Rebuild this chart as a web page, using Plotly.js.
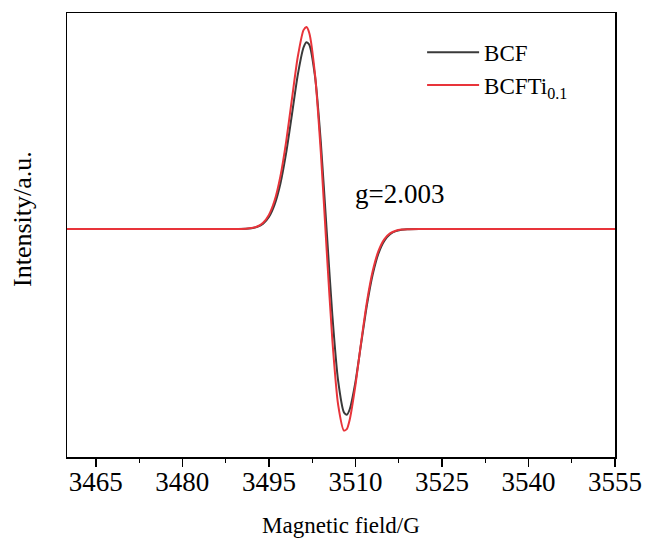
<!DOCTYPE html>
<html>
<head>
<meta charset="utf-8">
<script src="https://cdn.plot.ly/plotly-3.0.1.min.js"></script>
<style>html,body{margin:0;padding:0;background:#fff;}</style>
</head>
<body>
<div id="chart" style="width:646px;height:538px;"></div>
<script>
// Magnetic field (G) and intensity (a.u.)
const fieldBCF = [3460, 3470, 3480, 3486, 3489, 3491, 3492, 3493, 3494, 3495, 3496, 3497, 3498, 3499, 3500, 3501, 3501.5, 3502, 3503, 3504, 3505, 3506, 3507, 3508, 3508.5, 3509, 3510, 3511, 3512, 3513, 3514, 3515, 3516, 3517, 3518, 3519, 3521, 3524, 3530, 3540, 3555];
const intensityBCF = [0, 0, 0, 0, 0, 0.2, 0.8, 2.2, 5.3, 12.0, 24.6, 45.5, 76.3, 114.7, 153.9, 181.5, 186.8, 184.3, 152.5, 86.8, 0, -86.3, -151.7, -183.3, -185.8, -180.5, -153.1, -114.1, -75.9, -45.3, -24.4, -11.9, -5.3, -2.1, -0.8, -0.2, 0, 0, 0, 0, 0];

const fieldBCFTi = [3460, 3470, 3480, 3486, 3489, 3491, 3492, 3493, 3494, 3495, 3496, 3497, 3498, 3499, 3500, 3501, 3501.5, 3502, 3503, 3504, 3505, 3506, 3507, 3508, 3508.5, 3509, 3510, 3511, 3512, 3513, 3514, 3515, 3516, 3517, 3518, 3519, 3521, 3524, 3530, 3540, 3555];
const intensityBCFTi = [0, 0, 0, 0, 0, 0.3, 0.9, 2.5, 6.3, 14.1, 28.7, 52.9, 87.7, 130.3, 172.0, 198.9, 201.9, 196.0, 154.2, 76.9, -19.7, -111.3, -175.7, -201.5, -200.1, -190.9, -156.3, -112.8, -72.6, -42.0, -21.9, -10.3, -4.4, -1.7, -0.6, -0.2, 0, 0, 0, 0, 0];

const seriesNames = ["BCF", "BCFTi<sub>0.1</sub>"];
const xTicks = [3465, 3480, 3495, 3510, 3525, 3540, 3555];
const xTitle = "Magnetic field/G";
const yTitle = "Intensity/a.u.";
const gLabel = "g=2.003";

const serif = "Liberation Serif, Times New Roman, serif";

const traces = [
  {x: fieldBCF, y: intensityBCF, name: seriesNames[0], type: "scatter", mode: "lines",
   line: {color: "#3a3a3a", width: 2, shape: "spline", smoothing: 0.6}},
  {x: fieldBCFTi, y: intensityBCFTi, name: seriesNames[1], type: "scatter", mode: "lines",
   line: {color: "#e8343a", width: 2, shape: "spline", smoothing: 0.6}}
];

const layout = {
  width: 646, height: 538,
  margin: {l: 67, r: 31, t: 13, b: 81},
  paper_bgcolor: "#ffffff", plot_bgcolor: "#ffffff",
  showlegend: true,
  legend: {x: 0.648, y: 0.96, xanchor: "left", yanchor: "top",
           itemwidth: 52,
           font: {family: serif, size: 23, color: "#000"}, bgcolor: "rgba(0,0,0,0)",
           borderwidth: 0},
  xaxis: {
    range: [3460, 3555], tickvals: xTicks, ticktext: xTicks.map(String),
    ticks: "outside", ticklen: 8, tickwidth: 1.5, tickcolor: "#000",
    ticklabelstandoff: -8,
    minor: {dtick: 7.5, tick0: 3465, ticks: "outside", ticklen: 4, tickwidth: 1.2, tickcolor: "#000", showgrid: false},
    showline: true, linecolor: "#000", linewidth: 1.5, mirror: true,
    showgrid: false, zeroline: false,
    tickfont: {family: serif, size: 27, color: "#000"},
    title: {text: xTitle, font: {family: serif, size: 23, color: "#000"}, standoff: 24}
  },
  yaxis: {
    range: [-228, 216], showticklabels: false, ticks: "",
    showline: true, linecolor: "#000", linewidth: 1.5, mirror: true,
    showgrid: false, zeroline: false
  },
  annotations: [
    {x: 3509.5, y: 35, xref: "x", yref: "y", text: gLabel, showarrow: false,
     xanchor: "left", yanchor: "middle", font: {family: serif, size: 27, color: "#000"}},
    {x: 22, y: 219, xref: "paper", yref: "paper", text: yTitle, showarrow: false,
     textangle: -90, xanchor: "center", yanchor: "middle",
     font: {family: serif, size: 26, color: "#000"}}
  ]
};
// place the y title annotation in pixel terms relative to the plot area
const plotW = 646 - 67 - 31, plotH = 538 - 13 - 81;
layout.annotations[1].x = (22 - 67) / plotW;
layout.annotations[1].y = (538 - 81 - 219) / plotH;

Plotly.newPlot("chart", traces, layout, {displayModeBar: false, staticPlot: true});
</script>
</body>
</html>
